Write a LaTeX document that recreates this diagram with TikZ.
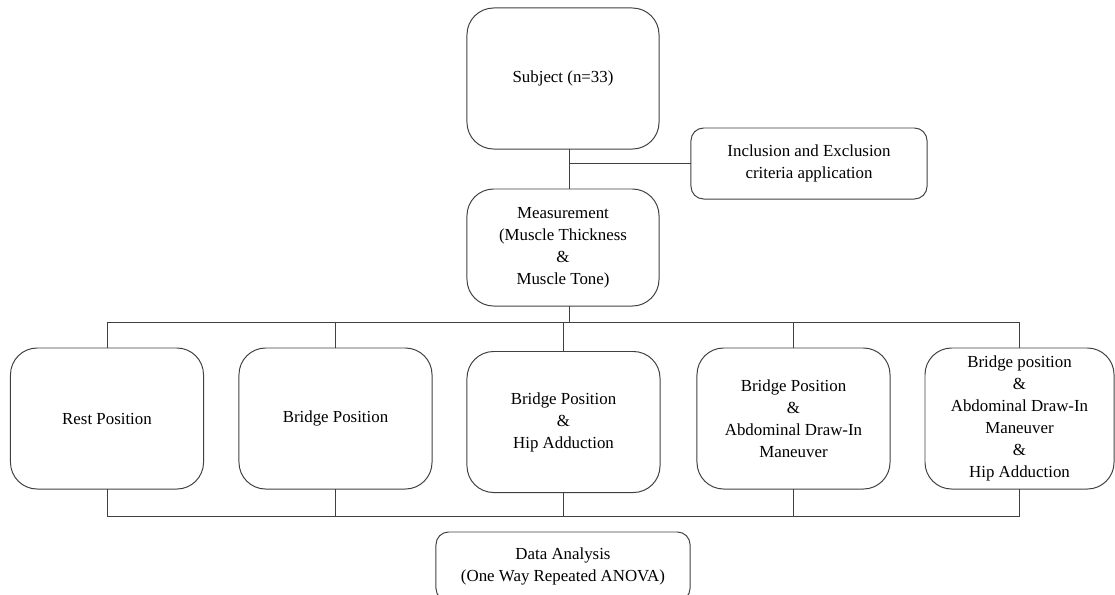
\documentclass[tikz,border=0pt]{standalone}
\usepackage{fontspec}
\setmainfont{Liberation Serif}

\tikzset{
  stage/.style={draw=black!75, line width=.7pt, rounded corners=19pt,
    align=center, inner sep=0pt, outer sep=0pt,
    font=\fontsize{12}{15.6}\selectfont},
  flat/.style={stage, rounded corners=9pt},
  link/.style={draw=black!75, line width=.7pt},
}

\begin{document}
\begin{tikzpicture}[x=.025cm, y=-.025cm]
\useasboundingbox (0,0) rectangle (1115,594);

\node[stage, minimum width=4.8cm, minimum height=3.525cm] (subject)
  at (563,78.5) {Subject (n=33)};
\node[flat, minimum width=5.9cm, minimum height=1.775cm] (incl)
  at (809,163.5) {Inclusion and Exclusion\\criteria application};
\node[stage, minimum width=4.8cm, minimum height=2.925cm] (meas)
  at (563,247.5) {Measurement\\(Muscle Thickness\\\&\\Muscle Tone)};

\coordinate (spine) at (569,0);
\coordinate (topbus) at (0,322);
\coordinate (botbus) at (0,516.5);

% positions
\begin{scope}[every node/.style={stage, minimum width=4.825cm, minimum height=3.525cm}]
\node (rest) at (107,418.5) {Rest Position};
\node (bridge) at (335.5,418.5) {Bridge Position};
\node (bh) at (563.5,422) {Bridge Position\\\&\\Hip Adduction};
\node (ba) at (793.5,418.5) {Bridge Position\\\&\\Abdominal Draw-In\\Maneuver};
\node[minimum width=4.725cm] (bah) at (1019.5,418.5)
  {Bridge position\\\&\\Abdominal Draw-In\\Maneuver\\\&\\Hip Adduction};
\end{scope}

\node[flat, minimum width=6.35cm, minimum height=1.725cm] (data)
  at (563,566.5) {Data Analysis\\(One Way Repeated ANOVA)};

% connectors
\draw[link]
  (spine |- subject.south) -- (spine |- meas.north);
\draw[link]
  (spine |- incl.west) -- (incl.west);
\draw[link]
  (spine |- meas.south) -- (spine |- topbus);
\draw[link]
  (rest.north |- topbus) -- (bah.north |- topbus);
\draw[link]
  (rest.south |- botbus) -- (bah.south |- botbus);
\foreach \b in {rest,bridge,bh,ba,bah} {
  \draw[link] (\b.north) -- (\b.north |- topbus);
  \draw[link] (\b.south) -- (\b.south |- botbus);
}
\end{tikzpicture}
\end{document}
